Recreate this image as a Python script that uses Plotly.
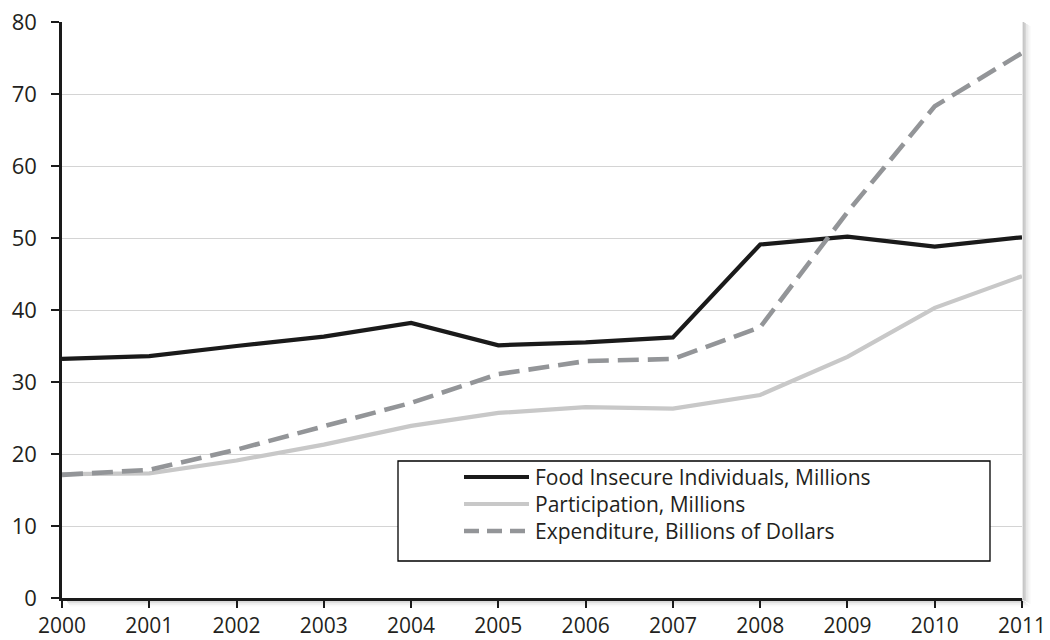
import plotly.graph_objects as go

# Annual series, 2000-2011
years = [2000, 2001, 2002, 2003, 2004, 2005, 2006, 2007, 2008, 2009, 2010, 2011]
food_insecure = [33.2, 33.6, 35.0, 36.3, 38.2, 35.1, 35.5, 36.2, 49.1, 50.2, 48.8, 50.1]
participation = [17.2, 17.3, 19.1, 21.3, 23.9, 25.7, 26.5, 26.3, 28.2, 33.5, 40.3, 44.7]
expenditure = [17.1, 17.8, 20.6, 23.9, 27.1, 31.1, 32.9, 33.2, 37.6, 53.6, 68.3, 75.7]

series_names = [
    "Food Insecure Individuals, Millions",
    "Participation, Millions",
    "Expenditure, Billions of Dollars",
]
y_ticks = [0, 10, 20, 30, 40, 50, 60, 70, 80]

W, H = 1050, 640
L, R, T, B = 62, 28, 22, 42
FONT = "Open Sans"
TEXT = "#231f20"

styles = [
    dict(color="#1a1a1a", width=4.2, dash="solid"),
    dict(color="#c8c8c8", width=4.2, dash="solid"),
    dict(color="#939598", width=4.6, dash="21px,9px"),
]

fig = go.Figure()
for name, vals, st in zip(series_names, [food_insecure, participation, expenditure], styles):
    fig.add_trace(go.Scatter(x=years, y=vals, mode="lines", name=name, line=st,
                             showlegend=False))

# helpers: pixel -> paper coordinates
def px(x):
    return (x - L) / (W - L - R)

def py(y):
    return (H - B - y) / (H - T - B)

shapes = []
annotations = []

# soft drop shadow along the right and bottom edges of the plot area
for i, a in enumerate([0.22, 0.15, 0.09, 0.05, 0.025]):
    shapes.append(dict(type="line", xref="paper", yref="paper",
                       x0=px(1023.5 + i * 1.6), x1=px(1023.5 + i * 1.6),
                       y0=py(22 + i), y1=py(600 + i),
                       line=dict(color=f"rgba(0,0,0,{a})", width=1.8), layer="below"))
    shapes.append(dict(type="line", xref="paper", yref="paper",
                       x0=px(66 + i), x1=px(1023 + i * 1.6),
                       y0=py(600 + i * 1.4), y1=py(600 + i * 1.4),
                       line=dict(color=f"rgba(0,0,0,{a})", width=1.6), layer="below"))

# legend box
shapes.append(dict(type="rect", xref="paper", yref="paper", x0=px(398), x1=px(990),
                   y0=py(461), y1=py(561), line=dict(color="black", width=1.3),
                   fillcolor="white"))
rows = [477, 504, 531]
for name, st, ry in zip(series_names, styles, rows):
    shapes.append(dict(type="line", xref="paper", yref="paper", x0=px(464), x1=px(529),
                       y0=py(ry), y1=py(ry),
                       line=dict(color=st["color"], width=st["width"],
                                 dash="15px,8px" if st["dash"] != "solid" else "solid")))
    annotations.append(dict(xref="paper", yref="paper", x=px(533), y=py(ry), text=name,
                            showarrow=False, xanchor="left", yanchor="middle",
                            font=dict(family=FONT, size=21, color=TEXT)))

fig.update_layout(
    width=W, height=H,
    margin=dict(l=L, r=R, t=T, b=B, autoexpand=False),
    paper_bgcolor="white", plot_bgcolor="white",
    font=dict(family=FONT, size=21, color=TEXT),
    shapes=shapes, annotations=annotations,
    showlegend=False,
)
fig.update_xaxes(range=[2000, 2011], tickmode="array", tickvals=years,
                 ticktext=[str(y) for y in years], automargin=False,
                 tickfont=dict(family=FONT, size=21, color=TEXT),
                 showgrid=False, zeroline=False,
                 showline=True, linecolor="#1a1a1a", linewidth=2.5,
                 ticks="outside", ticklen=7, tickwidth=2, tickcolor="#1a1a1a",
                 ticklabelstandoff=0)
fig.update_yaxes(range=[0, 80], tickmode="array", tickvals=y_ticks, automargin=False,
                 tickfont=dict(family=FONT, size=22, color=TEXT),
                 showgrid=True, gridcolor="#d4d4d4", gridwidth=1, zeroline=False,
                 showline=True, linecolor="#1a1a1a", linewidth=2.5,
                 ticks="outside", ticklen=8, tickwidth=2, tickcolor="#1a1a1a",
                 ticklabelstandoff=10)

fig.write_html("out.html")
